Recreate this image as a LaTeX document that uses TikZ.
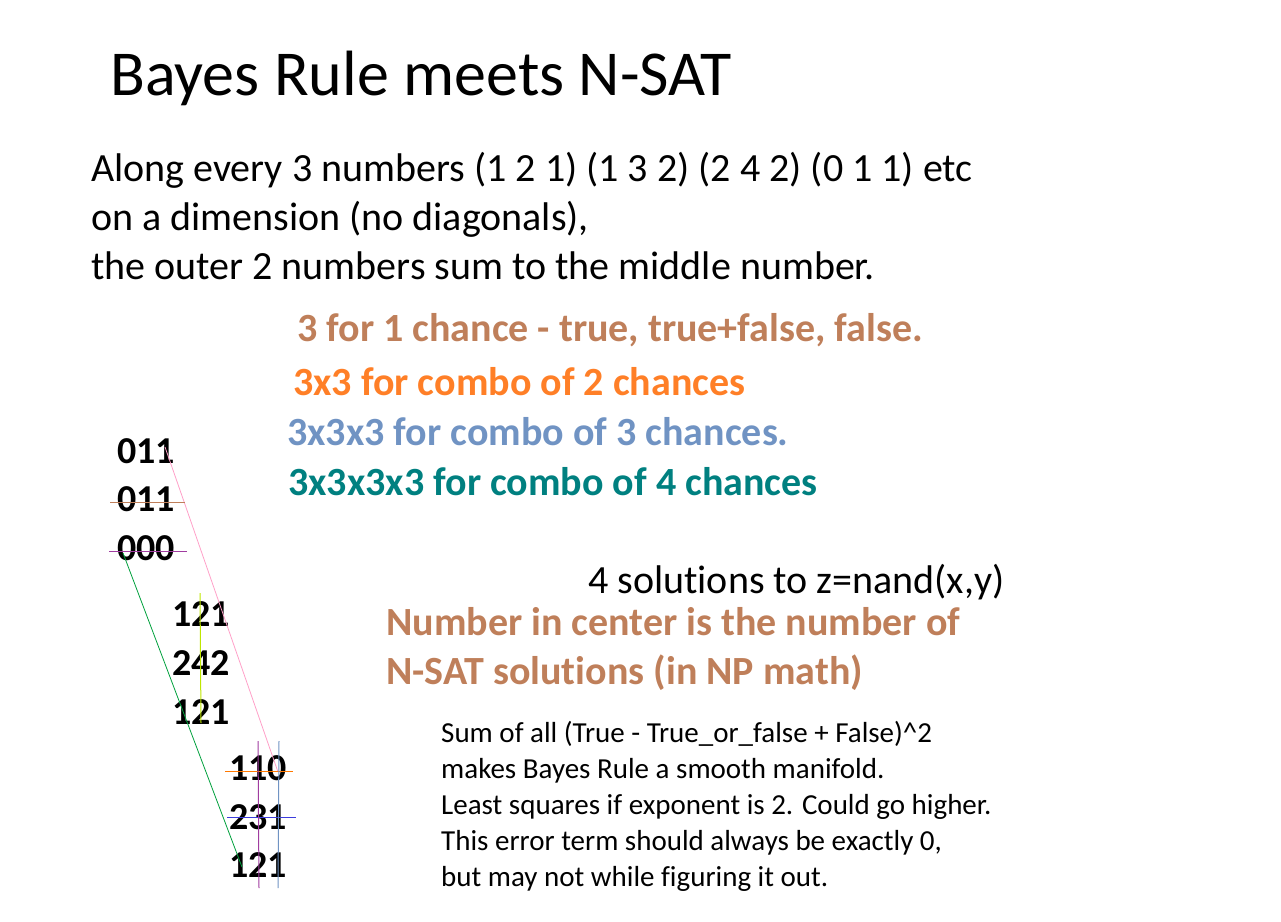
\documentclass[tikz,border=0pt]{standalone}
\usepackage{fontspec}
\setmainfont{Carlito}[Ligatures=NoCommon]
\definecolor{brownish}{RGB}{191,127,90}
\definecolor{orangeish}{RGB}{255,127,39}
\definecolor{blueish}{RGB}{112,147,195}
\definecolor{tealish}{RGB}{0,128,128}
\definecolor{pinkline}{RGB}{255,160,200}
\definecolor{greenline}{RGB}{0,160,60}
\definecolor{limeline}{RGB}{190,230,0}
\definecolor{purpleline}{RGB}{160,60,160}
\definecolor{blueline}{RGB}{60,60,220}
\definecolor{orangeline}{RGB}{255,120,0}
\tikzset{
  txt/.style={anchor=base west,inner sep=0pt,align=left,font=\fontsize{40}{49}\selectfont},
  num/.style={anchor=base west,inner sep=0pt,font=\fontsize{38}{38}\selectfont\bfseries},
  hue/.style={anchor=base west,inner sep=0pt,align=left,font=\fontsize{40}{49}\selectfont\bfseries}
}
\begin{document}
\begin{tikzpicture}[x=1pt,y=-1pt]
          \useasboundingbox (0,0) rectangle (1281,921);
          % title and heading text (base is the last line)
          \node[txt,font=\fontsize{64}{64}\selectfont] (title) at (110,95) {Bayes Rule meets N-SAT};
          \node[txt] (rule) at (91,279) {Along every 3 numbers (1 2 1) (1 3 2) (2 4 2) (0 1 1) etc\\on a dimension (no diagonals),\\the outer 2 numbers sum to the middle number.};
          % four coloured lines
          \node[hue,text=brownish] (one) at (297,341) {3 for 1 chance - true, true+false, false.};
          \node[hue,text=orangeish] (two) at (293,395) {3x3 for combo of 2 chances};
          \node[hue,text=blueish] (three) at (287,445) {3x3x3 for combo of 3 chances.};
          \node[hue,text=tealish] (four) at (288,495) {3x3x3x3 for combo of 4 chances};
          % the right hand notes
          \node[txt] (nand) at (588,593) {4 solutions to z=nand(x,y)};
          \node[hue,text=brownish] (center) at (386,684) {Number in center is the number of\\N-SAT solutions (in NP math)};
          \node[txt,font=\fontsize{29}{36}\selectfont] (sum) at (441,886) {Sum of all (True - True\_or\_false + False)\^{}2\\makes Bayes Rule a smooth manifold.\\Least squares if exponent is 2. Could go higher.\\This error term should always be exactly 0,\\but may not while figuring it out.};
          % three grids of numbers
          \node[num] (a1) at (117,463) {011};
          \node[num] (a2) at (117,511) {011};
          \node[num] (a3) at (117,560) {000};
          \node[num] (b1) at (172,626) {121};
          \node[num] (b2) at (172,675) {242};
          \node[num] (b3) at (172,724) {121};
          \node[num] (c1) at (229,780) {110};
          \node[num] (c2) at (229,829) {231};
          \node[num] (c3) at (229,877) {121};
          % thin lines through the numbers
          \draw[pinkline,line width=0.8pt] (165,447) -- (278,772);
          \draw[greenline,line width=0.8pt] (123,553) -- (242,867);
          \draw[brownish,line width=1pt] (110,502) -- (185,502);
          \draw[purpleline,line width=1pt] (109,551) -- (187,551);
          \draw[limeline,line width=1pt] (200,593) -- (201,723);
          \draw[orangeline,line width=1pt] (225,771) -- (293,771);
          \draw[blueline,line width=1pt] (227,817) -- (296,817);
          \draw[purpleline,line width=1pt] (258,741) -- (259,888);
          \draw[blueish,line width=1pt] (279,741) -- (278,888);
        \end{tikzpicture}
\end{document}
